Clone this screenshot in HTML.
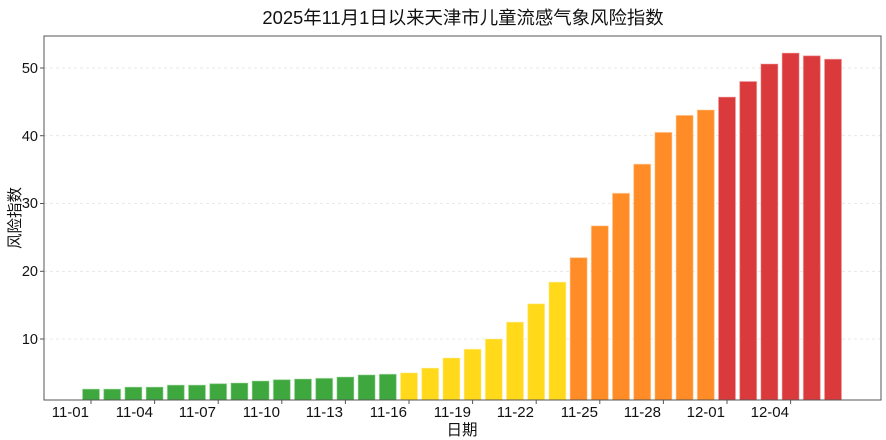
<!DOCTYPE html>
<html><head><meta charset="utf-8"><style>body{margin:0;background:#fff}svg{display:block}text{font-family:"Liberation Sans","Noto Sans CJK SC",sans-serif;fill:#111}</style></head>
<body><svg width="886" height="440" xmlns="http://www.w3.org/2000/svg">
<text x="463" y="24" font-size="18.4" text-anchor="middle">2025年11月1日以来天津市儿童流感气象风险指数</text>
<g stroke="#e4e4e4" stroke-dasharray="3,3" stroke-width="0.8">
<line x1="44" x2="881" y1="339" y2="339"/><line x1="44" x2="881" y1="271.3" y2="271.3"/><line x1="44" x2="881" y1="203.5" y2="203.5"/><line x1="44" x2="881" y1="135.7" y2="135.7"/><line x1="44" x2="881" y1="68" y2="68"/></g>
<g stroke-width="1" stroke-opacity="0.5">
<g fill="#3ea83e" stroke="#a8dca8">
<rect x="82.5" y="389.1" width="17" height="10.9"/><rect x="103.7" y="389.1" width="17" height="10.9"/><rect x="124.9" y="387.1" width="17" height="12.9"/><rect x="146.1" y="387.1" width="17" height="12.9"/><rect x="167.3" y="385.1" width="17" height="14.9"/><rect x="188.5" y="385.1" width="17" height="14.9"/><rect x="209.7" y="383.7" width="17" height="16.3"/><rect x="230.9" y="383" width="17" height="17"/><rect x="252.1" y="381" width="17" height="19"/><rect x="273.3" y="379.7" width="17" height="20.3"/><rect x="294.5" y="379" width="17" height="21"/><rect x="315.7" y="378.3" width="17" height="21.7"/><rect x="336.9" y="377" width="17" height="23"/><rect x="358.1" y="374.9" width="17" height="25.1"/><rect x="379.3" y="374.2" width="17" height="25.8"/></g>
<g fill="#ffd91a" stroke="#fff0a0">
<rect x="400.5" y="372.9" width="17" height="27.1"/><rect x="421.7" y="368.1" width="17" height="31.9"/><rect x="442.9" y="358" width="17" height="42"/><rect x="464.1" y="349.2" width="17" height="50.8"/><rect x="485.3" y="339" width="17" height="61"/><rect x="506.5" y="322.1" width="17" height="77.9"/><rect x="527.7" y="303.8" width="17" height="96.2"/><rect x="548.9" y="282.1" width="17" height="117.9"/></g>
<g fill="#ff8c26" stroke="#ffc890">
<rect x="570.1" y="257.7" width="17" height="142.3"/><rect x="591.3" y="225.9" width="17" height="174.1"/><rect x="612.5" y="193.3" width="17" height="206.7"/><rect x="633.7" y="164.2" width="17" height="235.8"/><rect x="654.9" y="132.4" width="17" height="267.6"/><rect x="676.1" y="115.4" width="17" height="284.6"/><rect x="697.3" y="110" width="17" height="290"/></g>
<g fill="#da3a3c" stroke="#f0a0a0">
<rect x="718.5" y="97.1" width="17" height="302.9"/><rect x="739.7" y="81.5" width="17" height="318.5"/><rect x="760.9" y="64" width="17" height="336"/><rect x="782.1" y="53.1" width="17" height="346.9"/><rect x="803.3" y="55.8" width="17" height="344.2"/><rect x="824.5" y="59.2" width="17" height="340.8"/></g></g>
<rect x="44" y="36" width="837" height="364" fill="none" stroke="#555" stroke-width="1"/>
<g stroke="#555"><line x1="40" x2="44" y1="339" y2="339"/><line x1="40" x2="44" y1="271.3" y2="271.3"/><line x1="40" x2="44" y1="203.5" y2="203.5"/><line x1="40" x2="44" y1="135.7" y2="135.7"/><line x1="40" x2="44" y1="68" y2="68"/>
<line x1="91" x2="91" y1="400" y2="404"/><line x1="154.6" x2="154.6" y1="400" y2="404"/><line x1="218.2" x2="218.2" y1="400" y2="404"/><line x1="281.8" x2="281.8" y1="400" y2="404"/><line x1="345.4" x2="345.4" y1="400" y2="404"/><line x1="409" x2="409" y1="400" y2="404"/><line x1="472.6" x2="472.6" y1="400" y2="404"/><line x1="536.2" x2="536.2" y1="400" y2="404"/><line x1="599.8" x2="599.8" y1="400" y2="404"/><line x1="663.4" x2="663.4" y1="400" y2="404"/><line x1="727" x2="727" y1="400" y2="404"/><line x1="790.6" x2="790.6" y1="400" y2="404"/></g>
<g font-size="14.5" text-anchor="end">
<text x="38" y="344">10</text><text x="38" y="276">20</text><text x="38" y="208">30</text><text x="38" y="141">40</text><text x="38" y="73">50</text></g>
<g font-size="15" text-anchor="end">
<text x="89" y="417">11-01</text><text x="153" y="417">11-04</text><text x="216" y="417">11-07</text><text x="280" y="417">11-10</text><text x="343" y="417">11-13</text><text x="407" y="417">11-16</text><text x="471" y="417">11-19</text><text x="534" y="417">11-22</text><text x="598" y="417">11-25</text><text x="661" y="417">11-28</text><text x="725" y="417">12-01</text><text x="789" y="417">12-04</text></g>
<text x="462" y="435" font-size="15.5" text-anchor="middle">日期</text>
<text transform="translate(20,218) rotate(-90)" font-size="15.5" text-anchor="middle">风险指数</text>
</svg></body></html>
